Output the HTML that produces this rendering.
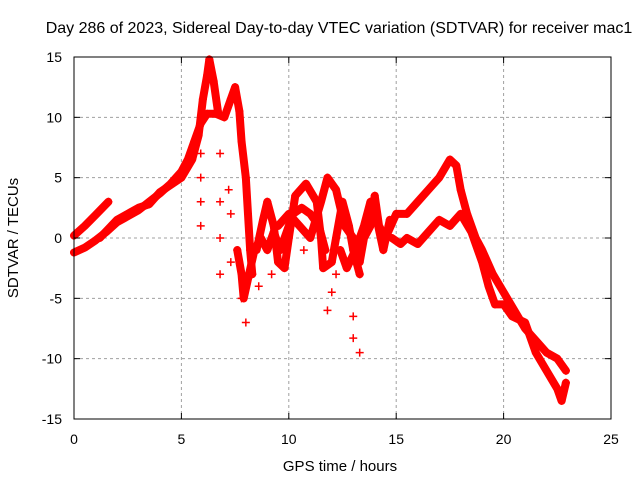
<!DOCTYPE html>
<html><head><meta charset="utf-8"><style>
body{margin:0;background:#fff}
svg{display:block;font-family:"Liberation Sans",sans-serif}
</style></head><body>
<svg id="c" width="640" height="480">
<text x="339" y="33" font-size="16" text-anchor="middle">Day 286 of 2023, Sidereal Day-to-day VTEC variation (SDTVAR) for receiver mac1</text>
<text x="340" y="471" font-size="15" text-anchor="middle">GPS time / hours</text>
<text transform="translate(18,238) rotate(-90)" font-size="15" text-anchor="middle">SDTVAR / TECUs</text>
<g id="grid"></g><g id="marks"></g><g id="axes"></g>
</svg>
<script>
const xTicks=[0,5,10,15,20,25];
const yTicks=[-15,-10,-5,0,5,10,15];
const trackA=[[0,0.2],[0.5,1.0],[1,1.9],[1.6,3.0]];
const trackB=[[0,-1.2],[0.5,-0.8],[1,-0.2],[1.5,0.5],[2,1.3],[2.5,1.8],[3,2.3],[3.5,3.0],[4,3.7],[4.5,4.5],[5,5.5],[5.3,6.5],[5.6,8],[5.9,9.5],[6.2,10.3],[6.6,10.3],[7,10.0],[7.3,11.5],[7.5,12.5],[7.7,10.5],[7.8,8],[8,5],[8.1,2],[8.2,-1],[8.3,-3]];
const trackC=[[1.2,0],[2,1.5],[3,2.5],[3.5,2.8],[4,3.8],[5,5],[5.5,6.5],[5.8,8.5],[6,11.5],[6.2,13.5],[6.3,14.8],[6.5,13],[6.7,10.5]];
const trackD=[[8.5,-1],[8.8,1.5],[9,3],[9.3,1],[9.5,-2],[9.8,-2.5],[10,0],[10.3,3.5],[10.8,4.5],[11.3,3],[11.5,0],[11.6,-2.5],[12,-2],[12.2,0],[12.5,3],[12.8,1],[13,-1],[13.3,-3]];
const trackE=[[9.5,1],[10,2],[10.5,1],[11,0],[11.5,3],[11.8,5],[12.2,4],[12.6,1],[13,0],[13.3,-2],[13.5,0],[13.8,1],[14,3.5],[14.2,1],[14.5,0],[15,2],[15.5,2],[16,3],[16.5,4],[17,5],[17.5,6.5],[17.8,6],[18,4],[18.3,2],[18.7,0],[19,-1],[19.5,-3],[20,-4.5],[20.5,-6],[21,-7.5],[21.5,-8.5],[22,-9.5],[22.5,-10],[22.9,-11]];
const trackF=[[14.8,0],[15.2,-0.5],[15.5,0],[16,-0.5],[16.5,0.5],[17,1.5],[17.5,1],[18,2],[18.5,0.5],[19,-2],[19.3,-4],[19.6,-5.5],[20,-5.5],[20.4,-6.5],[21,-7],[21.5,-9.5],[22,-11],[22.5,-12.5],[22.7,-13.5],[22.9,-12]];
const trackG=[[7.6,-1],[7.8,-3],[7.9,-5],[8.4,-1],[8.7,0],[9,-1],[9.3,0.5],[9.6,-1],[10.2,2],[10.6,2.5],[11,2],[11.4,1],[11.7,-1]];
const trackH=[[12.4,-1],[12.7,-2.5],[13.1,-1],[13.5,1],[13.8,3],[14.1,1.5],[14.4,-1],[14.7,1.5]];
const scatter=[[5.9,1],[5.9,3],[5.9,5],[5.9,7],[6.8,-3],[6.8,0],[6.8,3],[6.8,7],[7.3,-2],[7.3,2],[7.8,-5],[8,-7],[8.6,-4],[11.8,-6],[12,-4.5],[12.2,-3],[13,-8.3],[13,-6.5],[13.3,-9.5],[7.2,4],[9.2,-3],[10.7,-1]];
const X=h=>74+h*537/25, Y=v=>238-v*362/30;
const NS="http://www.w3.org/2000/svg";
function mk(t,a,p){const e=document.createElementNS(NS,t);for(const k in a)e.setAttribute(k,a[k]);p.appendChild(e);return e;}
const grid=document.getElementById('grid'),axes=document.getElementById('axes'),marks=document.getElementById('marks');
xTicks.forEach(t=>{if(t>0&&t<25){const l=mk('line',{x1:X(t),x2:X(t),y1:57,y2:419,stroke:'#a0a0a0','stroke-dasharray':'3,3'},grid);

}
const tx=mk('text',{x:X(t),y:444,'font-size':14,'text-anchor':'middle'},axes);tx.textContent=t;


mk('line',{x1:X(t),x2:X(t),y1:419,y2:413,stroke:'#000'},axes);mk('line',{x1:X(t),x2:X(t),y1:57,y2:63,stroke:'#000'},axes);});
yTicks.forEach(t=>{if(t>-15&&t<15){const l=mk('line',{x1:74,x2:611,y1:Y(t),y2:Y(t),stroke:'#a0a0a0','stroke-dasharray':'3,3'},grid);

}
const tx=mk('text',{x:62,y:Y(t)+5,'font-size':14,'text-anchor':'end'},axes);tx.textContent=t;


mk('line',{x1:74,x2:80,y1:Y(t),y2:Y(t),stroke:'#000'},axes);mk('line',{x1:611,x2:605,y1:Y(t),y2:Y(t),stroke:'#000'},axes);});
const fr=mk('rect',{x:74,y:57,width:537,height:362,fill:'none',stroke:'#000'},axes);


function plus(p){mk('path',{d:`M${X(p[0])-4},${Y(p[1])}h8M${X(p[0])},${Y(p[1])-4}v8`,stroke:'#f00','stroke-width':1.5},marks);}
[trackA,trackB,trackC,trackD,trackE,trackF,trackG,trackH].forEach(tr=>{
const pl=mk('polyline',{points:tr.map(p=>X(p[0])+','+Y(p[1])).join(' '),fill:'none',stroke:'#f00','stroke-width':8,'stroke-linejoin':'round','stroke-linecap':'round'},marks);


tr.forEach(plus);});
scatter.forEach(plus);
</script>
</body></html>
